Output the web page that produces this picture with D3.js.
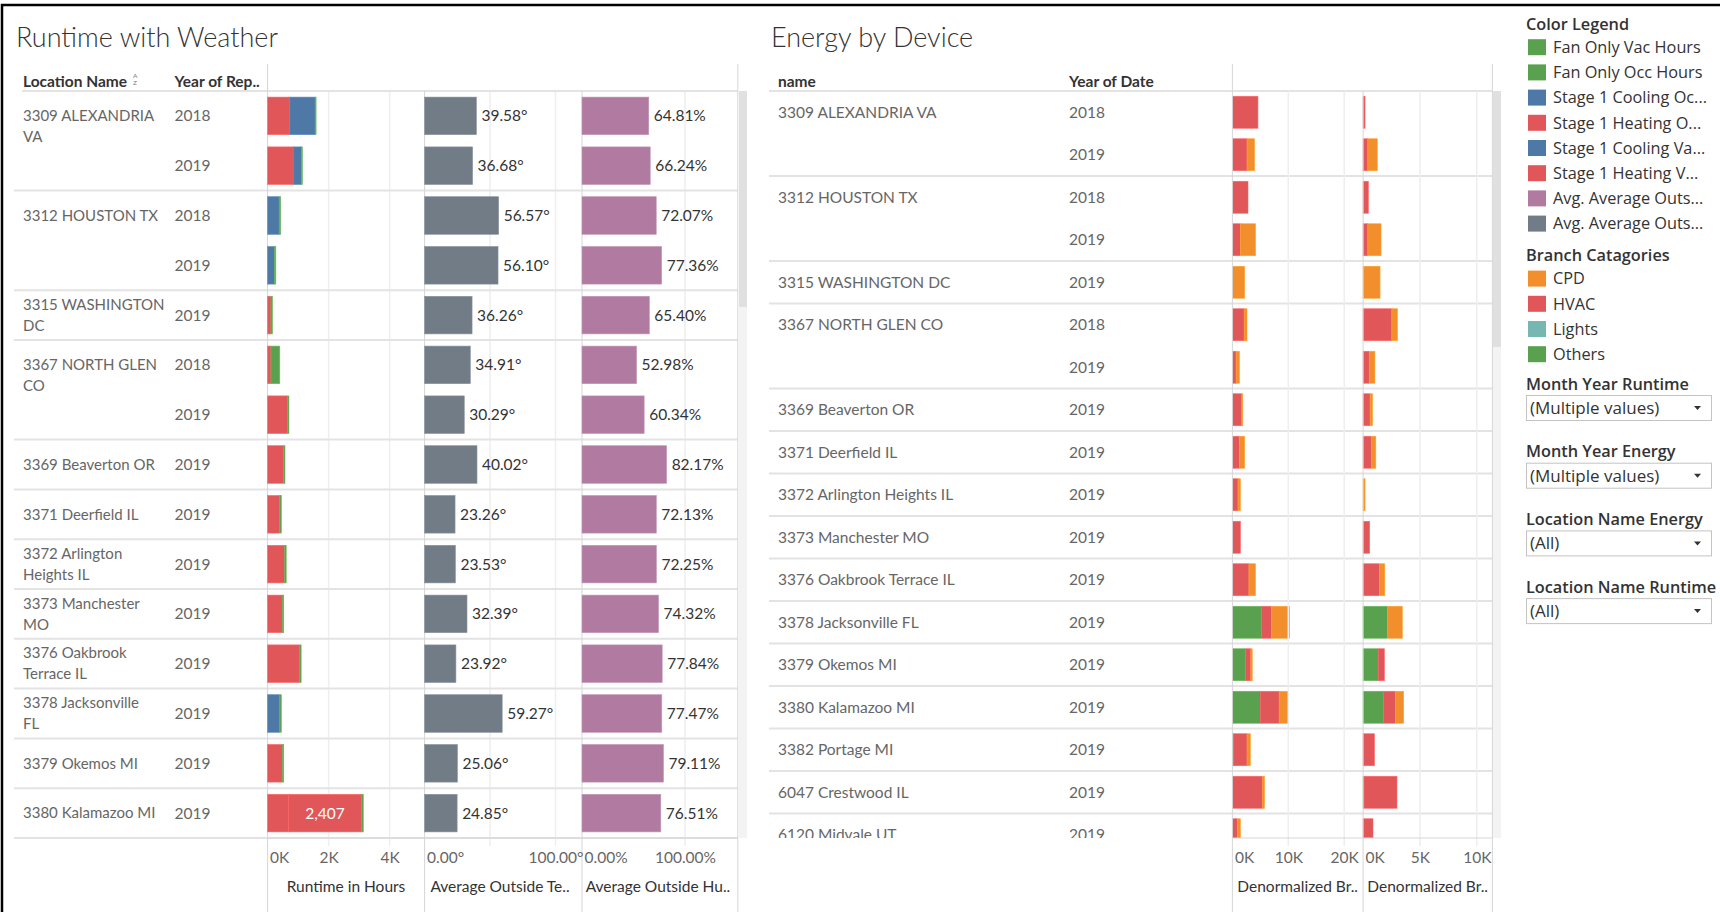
<!DOCTYPE html>
<html>
<head>
<meta charset="utf-8">
<script src="https://cdn.jsdelivr.net/npm/d3@7"></script>
<style>
  body { margin: 0; background: #fff; }
  text { font-family: Lato, "Open Sans", sans-serif; }
  .side text { font-family: "Open Sans", sans-serif; }
</style>
</head>
<body>
<div id="chart"></div>
<script>
const width = 1720, height = 912;

// ---- Runtime with Weather ----
const runName = ["3309 ALEXANDRIA VA", "3309 ALEXANDRIA VA", "3312 HOUSTON TX", "3312 HOUSTON TX",
  "3315 WASHINGTON DC", "3367 NORTH GLEN CO", "3367 NORTH GLEN CO", "3369 Beaverton OR",
  "3371 Deerfield IL", "3372 Arlington Heights IL", "3373 Manchester MO", "3376 Oakbrook Terrace IL",
  "3378 Jacksonville FL", "3379 Okemos MI", "3380 Kalamazoo MI"];
const runYear = [2018, 2019, 2018, 2019, 2019, 2018, 2019, 2019, 2019, 2019, 2019, 2019, 2019, 2019, 2019];
// runtime hours by series
const heatOcc = [730, 840, 0, 0, 110, 110, 650, 520, 400, 560, 480, 1050, 0, 480, 680];
const heatVac = [0, 0, 0, 0, 0, 0, 0, 0, 0, 0, 0, 0, 0, 0, 2407];
const coolOcc = [830, 270, 380, 220, 0, 0, 0, 0, 0, 0, 0, 0, 400, 0, 0];
const coolVac = [0, 0, 0, 0, 0, 0, 0, 0, 0, 0, 0, 0, 0, 0, 0];
const fanOcc = [30, 30, 50, 50, 50, 290, 50, 50, 50, 50, 50, 50, 50, 50, 50];
const fanVac = [0, 0, 0, 0, 0, 0, 0, 0, 0, 0, 0, 0, 0, 0, 0];
const avgTemp = [39.58, 36.68, 56.57, 56.10, 36.26, 34.91, 30.29, 40.02, 23.26, 23.53, 32.39, 23.92, 59.27, 25.06, 24.85];
const avgHum = [64.81, 66.24, 72.07, 77.36, 65.40, 52.98, 60.34, 82.17, 72.13, 72.25, 74.32, 77.84, 77.47, 79.11, 76.51];
const runTicks = [0, 2000, 4000];
const tempTicks = [0, 100];
const humTicks = [0, 1];

// ---- Energy by Device ----
const energyName = ["3309 ALEXANDRIA VA", "3309 ALEXANDRIA VA", "3312 HOUSTON TX", "3312 HOUSTON TX",
  "3315 WASHINGTON DC", "3367 NORTH GLEN CO", "3367 NORTH GLEN CO", "3369 Beaverton OR",
  "3371 Deerfield IL", "3372 Arlington Heights IL", "3373 Manchester MO", "3376 Oakbrook Terrace IL",
  "3378 Jacksonville FL", "3379 Okemos MI", "3380 Kalamazoo MI", "3382 Portage MI",
  "6047 Crestwood IL", "6120 Midvale UT"];
const energyYear = [2018, 2019, 2018, 2019, 2019, 2018, 2019, 2019, 2019, 2019, 2019, 2019, 2019, 2019, 2019, 2019, 2019, 2019];
const others1 = [0, 0, 0, 0, 0, 0, 0, 0, 0, 0, 0, 0, 5240, 2370, 4990, 250, 0, 0];
const hvac1 = [4570, 2620, 2790, 1440, 0, 2110, 680, 1690, 1270, 1010, 1440, 2960, 1780, 930, 3380, 2370, 5410, 930];
const lights1 = [0, 0, 0, 0, 0, 0, 0, 0, 0, 0, 0, 0, 0, 0, 0, 0, 0, 0];
const cpd1 = [0, 1350, 0, 2710, 2200, 500, 590, 170, 930, 420, 0, 1180, 3210, 250, 1610, 590, 340, 510];
const others2 = [0, 0, 0, 0, 0, 0, 0, 0, 0, 0, 0, 0, 2160, 1330, 1780, 0, 80, 0];
const hvac2 = [170, 420, 460, 420, 0, 2530, 540, 620, 750, 0, 580, 1450, 0, 540, 1080, 1000, 2900, 870];
const lights2 = [0, 0, 0, 0, 0, 0, 0, 0, 0, 0, 0, 0, 0, 0, 0, 0, 0, 0];
const cpd2 = [0, 830, 0, 1160, 1490, 500, 500, 210, 370, 170, 0, 460, 1290, 0, 710, 0, 0, 0];
const energyTicks1 = [0, 10000, 20000];
const energyTicks2 = [0, 5000, 10000];

// legends
const runLegend = ["Fan Only Vac Hours", "Fan Only Occ Hours", "Stage 1 Cooling Oc...", "Stage 1 Heating O...",
  "Stage 1 Cooling Va...", "Stage 1 Heating V...", "Avg. Average Outs...", "Avg. Average Outs..."];
const branchLegend = ["CPD", "HVAC", "Lights", "Others"];
const filterTitles = ["Month Year Runtime", "Month Year Energy", "Location Name Energy", "Location Name Runtime"];
const filterValues = ["(Multiple values)", "(Multiple values)", "(All)", "(All)"];

const red = "#e15759", blue = "#4e79a7", green = "#59a14f", orange = "#f28e2b",
      teal = "#76b7b2", pink = "#b07aa1", slate = "#717c87";
const runColors = { fanVac: green, fanOcc: green, coolOcc: blue, heatOcc: red, coolVac: blue, heatVac: red };
const legendColors = [green, green, blue, red, blue, red, pink, slate];
const branchColors = { CPD: orange, HVAC: red, Lights: teal, Others: green };

const svg = d3.select("#chart").append("svg")
  .attr("width", width).attr("height", height);

const lineCol = "#e3e3e3", gridCol = "#eeeeee", divCol = "#d6d6d6";
const fs = 15;
const sfs = 16.3;

// row header wrap: Tableau breaks these at about 17 characters
function wrap(str, maxChars) {
  let lines = [], cur = "";
  str.split(" ").forEach(w => {
    let t = cur ? cur + " " + w : w;
    if (t.length > maxChars && cur) { lines.push(cur); cur = w; }
    else cur = t;
  });
  lines.push(cur);
  return lines;
}
function groupsOf(names) {
  let out = [];
  names.forEach((n, i) => {
    if (out.length && out[out.length - 1].name === n) out[out.length - 1].end = i;
    else out.push({ name: n, start: i, end: i });
  });
  return out;
}

// frame
svg.append("rect").attr("x", 2).attr("y", 5).attr("width", 1740).attr("height", 940)
  .attr("fill", "none").attr("stroke", "#000").attr("stroke-width", 2.5);

// titles
svg.append("text").attr("x", 16).attr("y", 47).attr("font-size", 27).attr("font-weight", 300)
  .attr("font-family", "'Open Sans', sans-serif").attr("fill", "#333").text("Runtime with Weather");
svg.append("text").attr("x", 771).attr("y", 47).attr("font-size", 27).attr("font-weight", 300)
  .attr("font-family", "'Open Sans', sans-serif").attr("fill", "#333").text("Energy by Device");

// ================= LEFT PANEL =================
const topY = 91, bottomY = 838;
const yRun = d3.scaleBand().domain(d3.range(runName.length)).range([topY, bottomY])
  .paddingInner(0.245).paddingOuter(0.1225);
const stepR = yRun.step();
const xRun = d3.scaleLinear().domain([0, 4000]).range([267.6, 389.6]);
const xTemp = d3.scaleLinear().domain([0, 100]).range([424.6, 555.5]);
const xHum = d3.scaleLinear().domain([0, 1]).range([582, 685]);

const left = svg.append("g");

// header
left.append("text").attr("x", 23).attr("y", 82).attr("dy", "0.35em").attr("font-size", 15.5)
  .attr("font-weight", 700).attr("fill", "#333").text("Location Name");
left.append("text").attr("x", 133).attr("y", 78).attr("font-size", 6.5).attr("fill", "#777").text("A");
left.append("text").attr("x", 133).attr("y", 85).attr("font-size", 6.5).attr("fill", "#777").text("Z");
left.append("text").attr("x", 174.5).attr("y", 82).attr("dy", "0.35em").attr("font-size", 15.5)
  .attr("font-weight", 700).attr("fill", "#333").text("Year of Rep..");

// scrollbar
left.append("rect").attr("x", 739).attr("y", topY).attr("width", 8).attr("height", bottomY - topY).attr("fill", "#f3f3f3");
left.append("rect").attr("x", 739).attr("y", topY).attr("width", 8).attr("height", 216).attr("fill", "#e0e0e0");

// gridlines
[[xRun, [2000, 4000]], [xTemp, [50, 100]], [xHum, [1]]].forEach(([sc, vals]) => {
  left.selectAll(null).data(vals).enter().append("line")
    .attr("x1", d => sc(d)).attr("x2", d => sc(d)).attr("y1", topY).attr("y2", bottomY + 8)
    .attr("stroke", gridCol).attr("stroke-width", 1.5);
});

// separators
left.append("line").attr("x1", 22).attr("x2", 738).attr("y1", topY).attr("y2", topY)
  .attr("stroke", lineCol).attr("stroke-width", 2);
const runGroups = groupsOf(runName);
runGroups.forEach(g => {
  const yb = topY + stepR * (g.end + 1);
  left.append("line").attr("x1", 14).attr("x2", 738).attr("y1", yb).attr("y2", yb)
    .attr("stroke", lineCol).attr("stroke-width", 2);
});

// column dividers
[[267.6, 64], [424.6, topY], [582, topY], [737.8, 64]].forEach(([x, y0]) => {
  left.append("line").attr("x1", x).attr("x2", x).attr("y1", y0).attr("y2", height)
    .attr("stroke", divCol).attr("stroke-width", 1);
});

// row labels
runGroups.forEach(g => {
  const lines = wrap(g.name, 17);
  const single = g.start === g.end;
  const c = topY + stepR * (g.start + 0.5);
  const y0 = single ? c - (lines.length - 1) * 10.5 : c;
  lines.forEach((l, k) => {
    left.append("text").attr("x", 23).attr("y", y0 + k * 21).attr("dy", "0.35em")
      .attr("font-size", fs).attr("fill", "#666").text(l);
  });
});
runYear.forEach((yr, i) => {
  left.append("text").attr("x", 174.5).attr("y", topY + stepR * (i + 0.5)).attr("dy", "0.35em")
    .attr("font-size", 15.5).attr("fill", "#666").text(yr);
});

// runtime stacked bars
const runKeys = ["heatOcc", "heatVac", "coolOcc", "coolVac", "fanOcc", "fanVac"];
const runSrc = { heatOcc, heatVac, coolOcc, coolVac, fanOcc, fanVac };
const runRows = runName.map((n, i) => {
  const o = { i };
  runKeys.forEach(k => o[k] = runSrc[k][i]);
  return o;
});
const runStack = d3.stack().keys(runKeys)(runRows);
runStack.forEach(layer => {
  left.selectAll(null).data(layer.filter(d => d[1] > d[0])).enter().append("rect")
    .attr("x", d => xRun(d[0])).attr("width", d => xRun(d[1]) - xRun(d[0]))
    .attr("y", d => yRun(d.data.i)).attr("height", yRun.bandwidth())
    .attr("fill", runColors[layer.key])
    .attr("stroke", d3.color(runColors[layer.key]).brighter(0.4)).attr("stroke-width", 0.6);
  left.selectAll(null).data(layer.filter(d => d[1] - d[0] > 2000)).enter().append("text")
    .attr("x", d => (xRun(d[0]) + xRun(d[1])) / 2).attr("y", d => yRun(d.data.i) + yRun.bandwidth() / 2)
    .attr("dy", "0.35em").attr("text-anchor", "middle").attr("font-size", 15.5).attr("fill", "#fff")
    .text(d => d3.format(",")(d[1] - d[0]));
});

// temperature bars
left.selectAll(".temp").data(avgTemp).enter().append("rect")
  .attr("x", xTemp(0)).attr("width", d => xTemp(d) - xTemp(0))
  .attr("y", (d, i) => yRun(i)).attr("height", yRun.bandwidth())
  .attr("fill", slate).attr("stroke", "#8a939c").attr("stroke-width", 0.6);
left.selectAll(".tempLab").data(avgTemp).enter().append("text")
  .attr("x", d => xTemp(d) + 5).attr("y", (d, i) => yRun(i) + yRun.bandwidth() / 2).attr("dy", "0.35em")
  .attr("font-size", 15.5).attr("fill", "#333").text(d => d3.format(".2f")(d) + "°");

// humidity bars
left.selectAll(".hum").data(avgHum).enter().append("rect")
  .attr("x", xHum(0)).attr("width", d => xHum(d / 100) - xHum(0))
  .attr("y", (d, i) => yRun(i)).attr("height", yRun.bandwidth())
  .attr("fill", pink).attr("stroke", "#c397b6").attr("stroke-width", 0.6);
left.selectAll(".humLab").data(avgHum).enter().append("text")
  .attr("x", d => xHum(d / 100) + 5).attr("y", (d, i) => yRun(i) + yRun.bandwidth() / 2).attr("dy", "0.35em")
  .attr("font-size", 15.5).attr("fill", "#333").text(d => d3.format(".2f")(d) + "%");

// axis baseline
left.append("line").attr("x1", 267.6).attr("x2", 737.8).attr("y1", bottomY).attr("y2", bottomY)
  .attr("stroke", divCol);

function drawAxis(g, sc, vals, fmt) {
  const ax = g.append("g").attr("transform", `translate(0,${bottomY})`)
    .call(d3.axisBottom(sc).tickValues(vals).tickFormat(fmt).tickSize(0).tickPadding(14));
  ax.select(".domain").remove();
  ax.selectAll("text").attr("font-size", 15.5).attr("fill", "#666")
    .attr("font-family", "Lato, sans-serif");
  ax.selectAll(".tick").filter(d => d === 0).select("text")
    .attr("text-anchor", "start").attr("x", 2);
}
drawAxis(left, xRun, runTicks, d => d / 1000 + "K");
drawAxis(left, xTemp, tempTicks, d => d3.format(".2f")(d) + "°");
drawAxis(left, xHum, humTicks, d3.format(".2%"));

[["Runtime in Hours", 346], ["Average Outside Te..", 500], ["Average Outside Hu..", 658]].forEach(([t, x]) => {
  left.append("text").attr("x", x).attr("y", 887).attr("dy", "0.35em").attr("text-anchor", "middle")
    .attr("font-size", 15.5).attr("fill", "#333").text(t);
});

// ================= RIGHT PANEL =================
const right = svg.append("g");
const yEn = d3.scaleBand().domain(d3.range(energyName.length)).range([topY, topY + 42.5 * energyName.length])
  .paddingInner(0.247).paddingOuter(0.1235);
const stepE = yEn.step();
const xE1 = d3.scaleLinear().domain([0, 20000]).range([1232.4, 1344.2]);
const xE2 = d3.scaleLinear().domain([0, 10000]).range([1363.1, 1476.8]);

right.append("text").attr("x", 778).attr("y", 82).attr("dy", "0.35em").attr("font-size", 15.5)
  .attr("font-weight", 700).attr("fill", "#333").text("name");
right.append("text").attr("x", 1069).attr("y", 82).attr("dy", "0.35em").attr("font-size", 15.5)
  .attr("font-weight", 700).attr("fill", "#333").text("Year of Date");

right.append("rect").attr("x", 1493).attr("y", topY).attr("width", 8).attr("height", bottomY - topY).attr("fill", "#f3f3f3");
right.append("rect").attr("x", 1493).attr("y", topY).attr("width", 8).attr("height", 256).attr("fill", "#e0e0e0");

svg.append("clipPath").attr("id", "eclip").append("rect")
  .attr("x", 760).attr("y", topY - 1).attr("width", 740).attr("height", bottomY - topY + 1);
const body = right.append("g").attr("clip-path", "url(#eclip)");

[[xE1, [10000, 20000]], [xE2, [5000, 10000]]].forEach(([sc, vals]) => {
  right.selectAll(null).data(vals).enter().append("line")
    .attr("x1", d => sc(d)).attr("x2", d => sc(d)).attr("y1", topY).attr("y2", bottomY + 8)
    .attr("stroke", gridCol).attr("stroke-width", 1.5);
});

body.append("line").attr("x1", 769).attr("x2", 1492).attr("y1", topY).attr("y2", topY)
  .attr("stroke", lineCol).attr("stroke-width", 2);
const enGroups = groupsOf(energyName);
enGroups.forEach(g => {
  const yb = topY + stepE * (g.end + 1);
  body.append("line").attr("x1", 769).attr("x2", 1492).attr("y1", yb).attr("y2", yb)
    .attr("stroke", lineCol).attr("stroke-width", 2);
  body.append("text").attr("x", 778).attr("y", topY + stepE * (g.start + 0.5)).attr("dy", "0.35em")
    .attr("font-size", 15.5).attr("fill", "#666").text(g.name);
});
energyYear.forEach((yr, i) => {
  body.append("text").attr("x", 1069).attr("y", topY + stepE * (i + 0.5)).attr("dy", "0.35em")
    .attr("font-size", 15.5).attr("fill", "#666").text(yr);
});

[[1232.4, 64], [1363.1, topY], [1492.4, 64]].forEach(([x, y0]) => {
  right.append("line").attr("x1", x).attr("x2", x).attr("y1", y0).attr("y2", height)
    .attr("stroke", divCol).attr("stroke-width", 1);
});

const enKeys = ["Others", "HVAC", "Lights", "CPD"];
function energyBars(sc, src) {
  const rows = energyName.map((n, i) => {
    const o = { i };
    enKeys.forEach(k => o[k] = src[k][i]);
    return o;
  });
  d3.stack().keys(enKeys)(rows).forEach(layer => {
    body.selectAll(null).data(layer.filter(d => d[1] > d[0])).enter().append("rect")
      .attr("x", d => sc(d[0])).attr("width", d => sc(d[1]) - sc(d[0]))
      .attr("y", d => yEn(d.data.i)).attr("height", yEn.bandwidth())
      .attr("fill", branchColors[layer.key])
      .attr("stroke", d3.color(branchColors[layer.key]).brighter(0.4)).attr("stroke-width", 0.6);
  });
}
energyBars(xE1, { Others: others1, HVAC: hvac1, Lights: lights1, CPD: cpd1 });
energyBars(xE2, { Others: others2, HVAC: hvac2, Lights: lights2, CPD: cpd2 });

right.append("line").attr("x1", 1232.4).attr("x2", 1492.4).attr("y1", bottomY).attr("y2", bottomY)
  .attr("stroke", divCol);
drawAxis(right, xE1, energyTicks1, d => d / 1000 + "K");
drawAxis(right, xE2, energyTicks2, d => d / 1000 + "K");
[["Denormalized Br..", 1297.7], ["Denormalized Br..", 1427.7]].forEach(([t, x]) => {
  right.append("text").attr("x", x).attr("y", 887).attr("dy", "0.35em").attr("text-anchor", "middle")
    .attr("font-size", 15.5).attr("fill", "#333").text(t);
});

// ================= SIDE LEGENDS =================
const side = svg.append("g").attr("class", "side");
side.append("text").attr("x", 1526).attr("y", 24).attr("dy", "0.35em").attr("font-size", sfs)
  .attr("font-weight", 600).attr("fill", "#333").text("Color Legend");
runLegend.forEach((t, i) => {
  const y = 47.2 + i * 25.2;
  side.append("rect").attr("x", 1528).attr("y", y - 8).attr("width", 18).attr("height", 16)
    .attr("fill", legendColors[i]);
  side.append("text").attr("x", 1553).attr("y", y).attr("dy", "0.35em").attr("font-size", sfs)
    .attr("fill", "#333").text(t);
});
side.append("text").attr("x", 1526).attr("y", 255.6).attr("dy", "0.35em").attr("font-size", sfs)
  .attr("font-weight", 600).attr("fill", "#333").text("Branch Catagories");
branchLegend.forEach((t, i) => {
  const y = 278.6 + i * 25.2;
  side.append("rect").attr("x", 1528).attr("y", y - 8).attr("width", 18).attr("height", 16)
    .attr("fill", branchColors[t]);
  side.append("text").attr("x", 1553).attr("y", y).attr("dy", "0.35em").attr("font-size", sfs)
    .attr("fill", "#333").text(t);
});
filterTitles.forEach((t, i) => {
  const y = 384 + i * 67.7;
  side.append("text").attr("x", 1526).attr("y", y).attr("dy", "0.35em").attr("font-size", sfs)
    .attr("font-weight", 600).attr("fill", "#333").text(t);
  side.append("rect").attr("x", 1526.5).attr("y", y + 11.5).attr("width", 185).attr("height", 25)
    .attr("fill", "#fff").attr("stroke", "#c4c4c4");
  side.append("text").attr("x", 1530).attr("y", y + 24).attr("dy", "0.35em").attr("font-size", 17)
    .attr("fill", "#333").text(filterValues[i]);
  side.append("path").attr("d", `M${1694},${y + 22} l7,0 l-3.5,4 z`).attr("fill", "#333");
});
</script>
</body>
</html>
